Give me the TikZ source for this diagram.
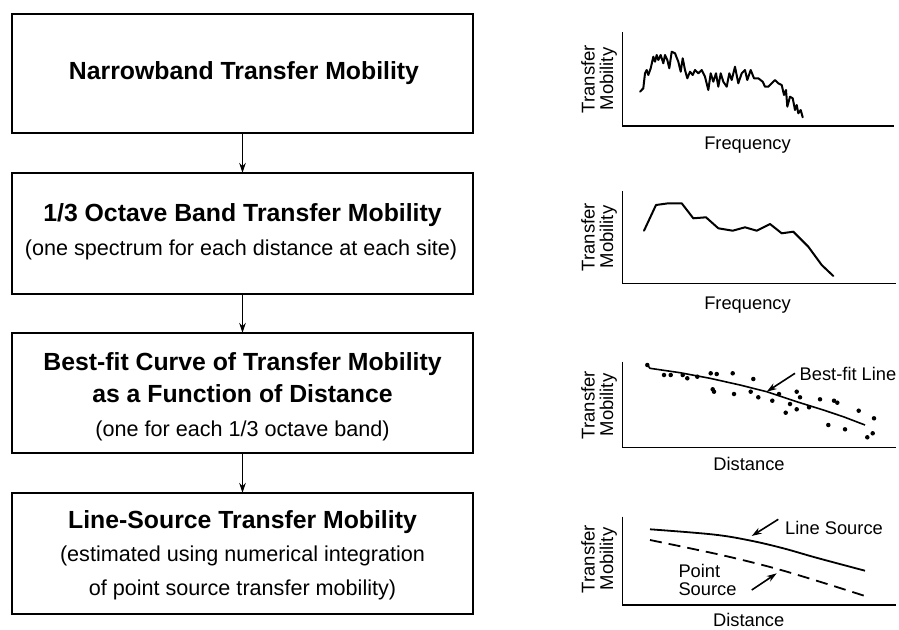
\documentclass[tikz,border=0pt]{standalone}
\usepackage{fontspec}
\setmainfont{Liberation Sans}
\usetikzlibrary{arrows.meta}
\tikzset{
  flowbox/.style={draw, line width=1.3pt, minimum width=461pt, inner sep=0pt, outer sep=0pt},
  ttl/.style={anchor=base, font=\fontsize{24.8}{28}\selectfont\bfseries, inner sep=0pt},
  sub/.style={anchor=base, font=\fontsize{21.6}{25}\selectfont, inner sep=0pt},
  glab/.style={anchor=base, font=\fontsize{18.3}{20}\selectfont, inner sep=0pt},
  ylab/.style={rotate=90, align=center, font=\fontsize{18.5}{18.5}\selectfont, inner sep=0pt},
  flowarr/.style={line width=1.3pt, -{Stealth[length=10pt,width=6.5pt]}},
  axisline/.style={line width=1.5pt},
  curve/.style={line width=2pt, line join=round, line cap=round},
  pointer/.style={line width=1.6pt, -{Stealth[length=10pt,width=6.5pt]}},
  dot/.style={circle, fill, inner sep=0pt, minimum size=4.5pt},
}
\begin{document}
\begin{tikzpicture}[x=1pt,y=-1pt]
\useasboundingbox (0,0) rectangle (899,629);
% flow boxes
\node[flowbox, minimum height=119pt] (b1) at (242.5,73.5) {};
\node[flowbox, minimum height=121pt] (b2) at (242.5,233.5) {};
\node[flowbox, minimum height=120pt] (b3) at (242.5,393) {};
\node[flowbox, minimum height=121pt] (b4) at (242.5,553.5) {};
\node[ttl] (t1) at (244,79.3) {Narrowband Transfer Mobility};
\node[ttl] (t2) at (242.5,221) {1/3 Octave Band Transfer Mobility};
\node[sub] (s2) at (241,255) {(one spectrum for each distance at each site)};
\node[ttl] (t3a) at (242.5,370) {Best-fit Curve of Transfer Mobility};
\node[ttl] (t3b) at (242.5,402.7) {as a Function of Distance};
\node[sub] (s3) at (242.5,436.7) {(one for each 1/3 octave band)};
\node[ttl] (t4) at (242.5,528.3) {Line-Source Transfer Mobility};
\node[sub] (s4a) at (242.5,561.7) {(estimated using numerical integration};
\node[sub] (s4b) at (242.5,595) {of point source transfer mobility)};
\draw[flowarr] (b1.south) -- (b2.north);
\draw[flowarr] (b2.south) -- (b3.north);
\draw[flowarr] (b3.south) -- (b4.north);

% graph 1
\coordinate (g1top) at (622.3,32);
\coordinate (g1right) at (894,126);
\draw[axisline] (g1top) |- (g1right);
\node[ylab] (y1) at (599,79) {Transfer\\Mobility};
\node[glab] (x1) at (747.5,149) {Frequency};
\draw[curve] (640,91.7) -- (643.3,88.3) -- (645,73.3) -- (646.7,70) -- (648.3,75) -- (650.7,68.3) -- (653.3,56.7) -- (655,61.7) -- (656.7,55) -- (658.3,60) -- (660.7,55) -- (663.3,63.3) -- (665,55) -- (667.3,60) -- (669.3,68.3) -- (671.7,51.7) -- (675,53.3) -- (678.3,61.7) -- (680.7,71.7) -- (682.7,58.3) -- (685,70) -- (687.3,78.3) -- (690,71.7) -- (692.7,75) -- (695,70) -- (698.3,73.3) -- (701.7,70) -- (705,76.7) -- (708.3,90) -- (710.7,73.3) -- (713.3,81.7) -- (716,73.3) -- (718.3,86.7) -- (720.7,73.3) -- (723.3,81.7) -- (726.7,86.7) -- (729.3,73.3) -- (731.7,80) -- (735,66.7) -- (738.3,83.3) -- (741.7,73.3) -- (745,70) -- (747.3,80) -- (750.7,70) -- (754,78.3) -- (758.3,78.3) -- (762.7,81.7) -- (765,86.7) -- (768.3,86.7) -- (771.7,83.3) -- (775,80) -- (778.3,83.3) -- (781.7,85) -- (784,95) -- (786,90) -- (787.3,106.7) -- (790,96.7) -- (792.7,98.3) -- (795,110) -- (796.7,105) -- (798.3,113.3) -- (800.7,110) -- (802.7,117.3);

% graph 2
\coordinate (g2top) at (622.3,191);
\coordinate (g2right) at (896,283.3);
\draw[axisline] (g2top) |- (g2right);
\node[ylab] (y2) at (599,237) {Transfer\\Mobility};
\node[glab] (x2) at (747.5,309) {Frequency};
\draw[curve] (644,230.7) -- (656,205) -- (668.3,203.3) -- (681.7,203.3) -- (693.3,218.3) -- (706,217.3) -- (718.3,228.3) -- (732.7,230.7) -- (745,227.3) -- (756.7,230.7) -- (770,224) -- (781.7,233.3) -- (793.3,231.7) -- (808.3,246.7) -- (821.7,265) -- (833.3,276);

% graph 3
\coordinate (g3top) at (622.3,361.7);
\coordinate (g3right) at (896,447.7);
\draw[axisline] (g3top) |- (g3right);
\node[ylab] (y3) at (599,405) {Transfer\\Mobility};
\node[glab] (x3) at (749,470) {Distance};
\draw[line width=1.6pt, line join=round] (647.3,365) -- (650,368.3) -- (680,372.7) -- (710,378.3) -- (740,385) -- (766.7,391.7) -- (796.7,401.7) -- (823.3,410) -- (843.3,416.7) -- (865,425);
\foreach \p [count=\i] in {(647.3,365),(664,375),(670.7,375),(682.7,375),(687.3,378.3),(697.3,376.7),(710.7,373.3),(716.7,374),(732.7,373.3),(753.3,379),(712.7,389.3),(714,391.7),(734,394),(750.7,391.7),(758.3,397.3),(772.3,400.7),(779,394),(796.7,391.7),(800,397.3),(790,404),(785.7,412.7),(796.7,409.3),(809,407.3),(820,399.3),(834,400.7),(837.3,402.7),(828.3,425),(845,429.3),(858.7,410.7),(874,418.3),(867.3,437.3),(872.7,433.3)}
  \node[dot] (d\i) at \p {};
\node[glab, anchor=base west] (bf) at (799.5,380) {Best-fit Line};
\coordinate (bfend) at (766.7,391.7);
\draw[pointer] (795,373.3) -- (bfend);

% graph 4
\coordinate (g4top) at (622.3,516.7);
\coordinate (g4right) at (896,605);
\draw[axisline] (g4top) |- (g4right);
\node[ylab] (y4) at (599,559) {Transfer\\Mobility};
\node[glab] (x4) at (748.7,626.5) {Distance};
\draw[line width=1.8pt, line join=round] plot[smooth, tension=0.6] coordinates {(650,529.3) (713.3,534.5) (750,540.5) (783.3,548.3) (816.7,557.8) (865,570.7)};
\draw[line width=1.8pt, dash pattern=on 12pt off 7pt] plot[smooth, tension=0.6] coordinates {(650,540) (690,548.3) (730,557) (776.7,568.8) (823.3,582.8) (865,596)};
\node[glab, anchor=base west] (ls) at (785,534) {Line Source};
\node[glab, anchor=base west] (ps1) at (678.3,577.3) {Point};
\node[glab, anchor=base west] (ps2) at (678.3,595.7) {Source};
\coordinate (lsend) at (751.7,536);
\coordinate (psend) at (776.7,573.3);
\draw[pointer] (778.3,519.3) -- (lsend);
\draw[pointer] (751.7,590) -- (psend);
\end{tikzpicture}
\end{document}
